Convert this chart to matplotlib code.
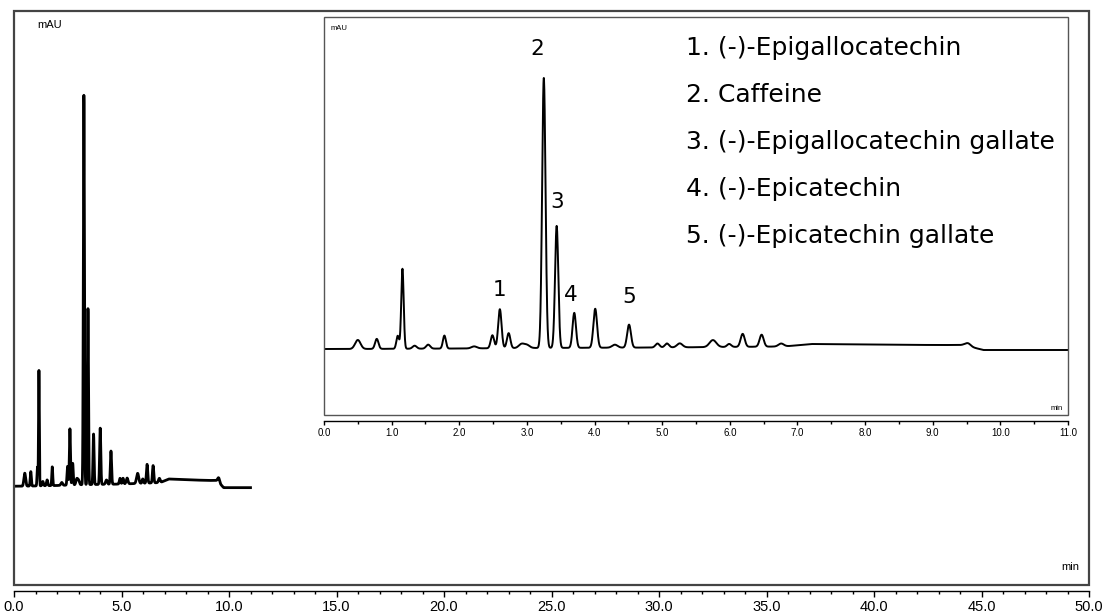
import matplotlib
matplotlib.use("Agg")
import matplotlib.pyplot as plt
import numpy as np
from matplotlib.patches import Rectangle
from matplotlib.ticker import MultipleLocator, FormatStrFormatter

# peaks: retention time (min), height (mAU above baseline), width (sigma, min)
peak_time = [0.50, 0.78, 1.09, 1.16, 1.34, 1.54, 1.78, 2.22, 2.49, 2.60, 2.73, 2.92, 3.00,
             3.25, 3.44, 3.70, 4.01, 4.30, 4.51, 4.93, 5.07, 5.26, 5.75, 5.99, 6.19,
             6.47, 6.76, 9.52]
peak_height = [9, 10, 13, 80, 3, 4, 13, 2, 13, 39, 15, 4, 3,
               270, 122, 35, 39, 3, 23, 4, 4, 4, 7, 3, 13,
               12, 3, 3]
peak_sigma = [0.04, 0.025, 0.02, 0.018, 0.03, 0.03, 0.022, 0.04, 0.025, 0.025, 0.025, 0.04, 0.04,
              0.025, 0.024, 0.025, 0.027, 0.04, 0.028, 0.03, 0.03, 0.04, 0.05, 0.03, 0.03,
              0.03, 0.04, 0.04]

# baseline drift anchors
base_time = [0.0, 0.4, 2.0, 3.0, 5.0, 6.8, 7.2, 8.0, 9.0, 9.45, 9.75, 11.0]
base_level = [1.0, 1.0, 1.5, 2.0, 2.5, 3.5, 6.0, 5.5, 5.0, 5.0, 0.0, 0.0]

peak_labels = ["1", "2", "3", "4", "5"]
label_time = [2.60, 3.16, 3.44, 3.65, 4.51]
label_level = [60, 301, 148, 55, 53]

compounds = ["1. (-)-Epigallocatechin", "2. Caffeine", "3. (-)-Epigallocatechin gallate",
             "4. (-)-Epicatechin", "5. (-)-Epicatechin gallate"]

t = np.linspace(0, 11, 4401)
signal = np.interp(t, base_time, base_level)
for rt, h, s in zip(peak_time, peak_height, peak_sigma):
    signal = signal + h * np.exp(-0.5 * ((t - rt) / s) ** 2)

W, H = 1103, 613
fig = plt.figure(figsize=(W / 100, H / 100), dpi=100)
tick_font = "Liberation Sans"
label_font = "DejaVu Sans"


def style_axis(ax, major, minor, offset, fsize, lmaj, lmin, frame_lw, frame_color):
    for side in ("top", "right", "left"):
        ax.spines[side].set_visible(False)
    ax.spines["bottom"].set_position(("outward", offset))
    ax.spines["bottom"].set_linewidth(1.0)
    ax.add_patch(Rectangle((0, 0), 1, 1, transform=ax.transAxes, fill=False,
                           lw=frame_lw, ec=frame_color, clip_on=False, zorder=5))
    ax.xaxis.set_major_locator(MultipleLocator(major))
    ax.xaxis.set_minor_locator(MultipleLocator(minor))
    ax.xaxis.set_major_formatter(FormatStrFormatter("%.1f"))
    ax.tick_params(axis="x", which="major", length=lmaj, width=1.0, pad=2, labelsize=fsize)
    ax.tick_params(axis="x", which="minor", length=lmin, width=1.0)
    ax.set_yticks([])
    for lab in ax.get_xticklabels():
        lab.set_fontfamily(tick_font)


# main chromatogram 0-50 min
ax = fig.add_axes([14 / W, (H - 585) / H, 1075 / W, 574 / H])
ax.plot(t, signal, color="black", lw=2.0)
ax.set_xlim(0, 50)
ax.set_ylim(-67.5, 330.5)
style_axis(ax, 5, 1, 4.3, 10.5, 4.5, 2.5, 1.6, "#444444")
ax.text(23 / 1075, 1 - 14 / 574, "mAU", transform=ax.transAxes, fontsize=8,
        family=tick_font, ha="left", va="center")
ax.text(1 - 10 / 1075, 18 / 574, "min", transform=ax.transAxes, fontsize=8,
        family=tick_font, ha="right", va="center")

# inset zoom 0-11 min
ax_in = fig.add_axes([324 / W, (H - 415) / H, 744 / W, 398 / H])
ax_in.plot(t, signal, color="black", lw=1.4)
ax_in.set_xlim(0, 11)
ax_in.set_ylim(-65, 333)
style_axis(ax_in, 1, 0.5, 4, 7, 3, 2, 1.0, "#555555")
ax_in.text(7 / 744, 1 - 12 / 398, "mAU", transform=ax_in.transAxes, fontsize=5.5,
           family=tick_font, ha="left", va="center")
ax_in.text(1 - 5 / 744, 7 / 398, "min", transform=ax_in.transAxes, fontsize=5.5,
           family=tick_font, ha="right", va="center")

for lab, x, y in zip(peak_labels, label_time, label_level):
    ax_in.text(x, y, lab, fontsize=15.5, family=label_font, ha="center", va="center")

for i, name in enumerate(compounds):
    ax_in.text(0.486, 0.922 - i * 0.118, name, transform=ax_in.transAxes,
               fontsize=18, family=label_font, ha="left", va="center")

fig.savefig("out.png", dpi=100)
plt.close(fig)
